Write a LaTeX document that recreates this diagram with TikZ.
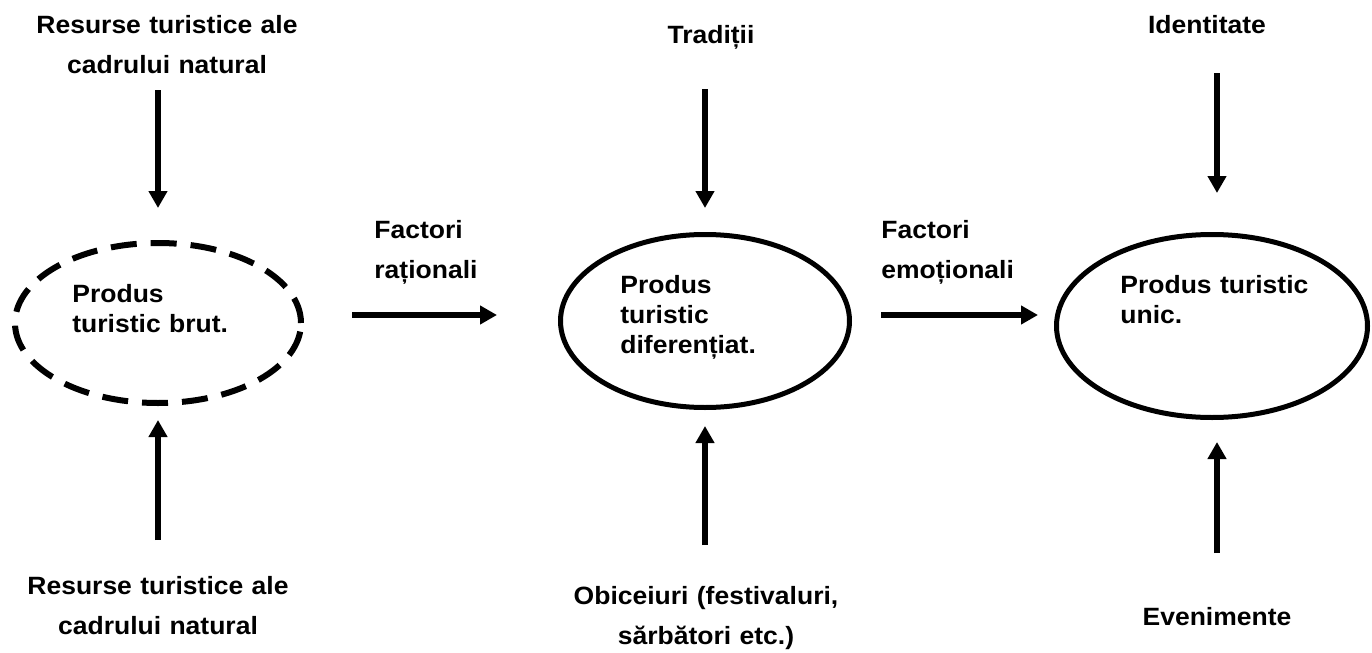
\documentclass[tikz,border=0pt]{standalone}
\usepackage{fontspec}
\setmainfont[FakeStretch=1.06]{Liberation Sans}
\usetikzlibrary{shapes.geometric,arrows.meta}

\begin{document}
\begin{tikzpicture}[x=0.5pt,y=-0.5pt,
	lbl/.style={inner sep=0,anchor=base,text width=160pt,align=center,font=\fontsize{12.5}{20}\selectfont\bfseries},
	intxt/.style={inner sep=0,anchor=base west,text width=100pt,align=left,font=\fontsize{12.5}{15}\selectfont\bfseries},
	prod/.style={draw,ellipse,line width=2.5pt,inner sep=0},
	arr/.style={line width=3.3pt,-{Triangle[length=8.5pt,width=9pt]}}]
	\useasboundingbox (0,0) rectangle (1372,653);
	% the three products
		    \node[prod,line width=3pt,dash pattern=on 13pt off 7pt,minimum width=143pt,minimum height=80pt] (p1) at (158,323) {};
		    \node[prod,minimum width=144.5pt,minimum height=86.5pt] (p2) at (705,321) {};
		    \node[prod,minimum width=155.5pt,minimum height=91.5pt] (p3) at (1212,326) {};
		    \node[intxt] (t1) at (72,302) {Produs\\turistic brut.};
		    \node[intxt] (t2) at (620,293) {Produs\\turistic\\diferențiat.};
		    \node[intxt] (t3) at (1120,293) {Produs turistic\\unic.};
	% inputs
		    \node[lbl] (r1) at (167,33) {Resurse turistice ale\\cadrului natural};
		    \node[lbl] (r2) at (158,594) {Resurse turistice ale\\cadrului natural};
		    \node[lbl] (tr) at (711,43) {Tradiții};
		    \node[lbl] (ob) at (706,604) {Obiceiuri (festivaluri,\\sărbători etc.)};
		    \node[lbl] (id) at (1207,33) {Identitate};
		    \node[lbl] (ev) at (1217,625) {Evenimente};
		    \node[lbl,anchor=base west,align=left] (f1) at (374,238) {Factori\\raționali};
		    \node[lbl,anchor=base west,align=left] (f2) at (881,238) {Factori\\emoționali};
		    \coordinate (h) at (0,315);
		    \coordinate (v) at (1217,0);
    \draw[arr,shorten <=28.5pt,shorten >=16pt] (r1.base -| p1.north)--(p1.north);
    \draw[arr,shorten <=27pt,shorten >=7pt] (r2.base -| p1.south)--(p1.south);
    \draw[arr,shorten <=23pt,shorten >=12pt] (tr.base -| p2.north)--(p2.north);
    \draw[arr,shorten <=29.5pt,shorten >=8pt] (ob.base -| p2.south)--(p2.south);
    \draw[arr,shorten <=20pt,shorten >=19.5pt] (id.base -| v)--(p3.north -| v);
    \draw[arr,shorten <=36pt,shorten >=11pt] (ev.base -| v)--(p3.south -| v);
     \draw[arr,shorten <=24pt,shorten >=30.5pt] (p1.east |- h)--(p2.west |- h);
     \draw[arr,shorten <=14.5pt,shorten >=8pt] (p2.east |- h)--(p3.west |- h);
   	\end{tikzpicture}
\end{document}
